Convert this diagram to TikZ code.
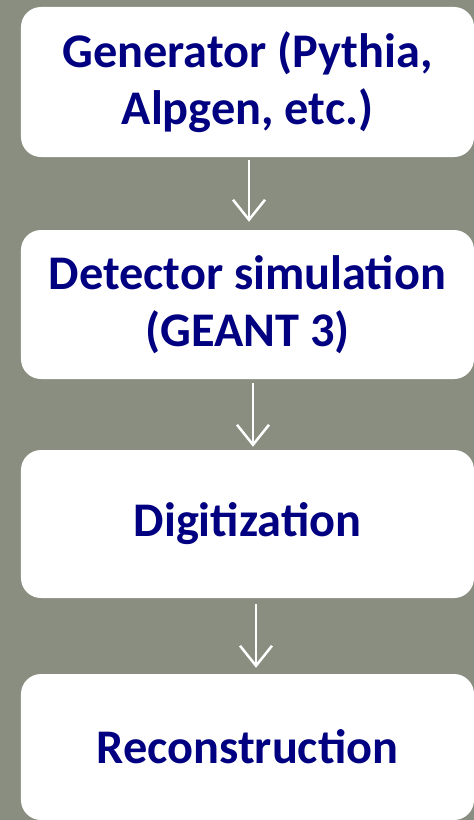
\documentclass[tikz,border=0pt]{standalone}
\usepackage{fontspec}
\setmainfont{Carlito}
\usetikzlibrary{arrows.meta}
\definecolor{slate}{HTML}{8A8E80}
\definecolor{navytext}{HTML}{000080}

\tikzset{
	stage/.style={fill=white, rounded corners=20bp, minimum width=453bp, inner sep=0pt, align=center, text=navytext, font=\fontsize{48.5}{57}\selectfont\bfseries},
	flow/.style={draw=white, line width=2.5bp, -{Straight Barb[length=20bp,width=32bp]}}
}

\begin{document}
\begin{tikzpicture}[x=1bp, y=-1bp]
	%%%%% START %%%%%
	
	\fill[slate] (0, 0) rectangle (474, 820);
	\useasboundingbox (0, 0) rectangle (474, 820);
	
	\node[stage, minimum height=150bp] (gen) at (247.5, 82) {Generator (Pythia,\\Alpgen, etc.)};
	\node[stage, minimum height=149bp] (det) at (247.5, 304.5) {Detector simulation\\(GEANT 3)};
	\node[stage, minimum height=148bp] (digi) at (247.5, 524) {Digitization};
	\node[stage, minimum height=146bp] (reco) at (247.5, 747) {Reconstruction};
	
	\draw[flow] ([xshift=1.5bp, yshift=-3bp]gen.south) -- ([xshift=1.5bp, yshift=8bp]det.north);
	\draw[flow] ([xshift=5.5bp, yshift=-4bp]det.south) -- ([xshift=5.5bp, yshift=3bp]digi.north);
	\draw[flow] ([xshift=8.5bp, yshift=-6bp]digi.south) -- ([xshift=8.5bp, yshift=6bp]reco.north);
	
	%%%%% END %%%%%
\end{tikzpicture}
\end{document}
